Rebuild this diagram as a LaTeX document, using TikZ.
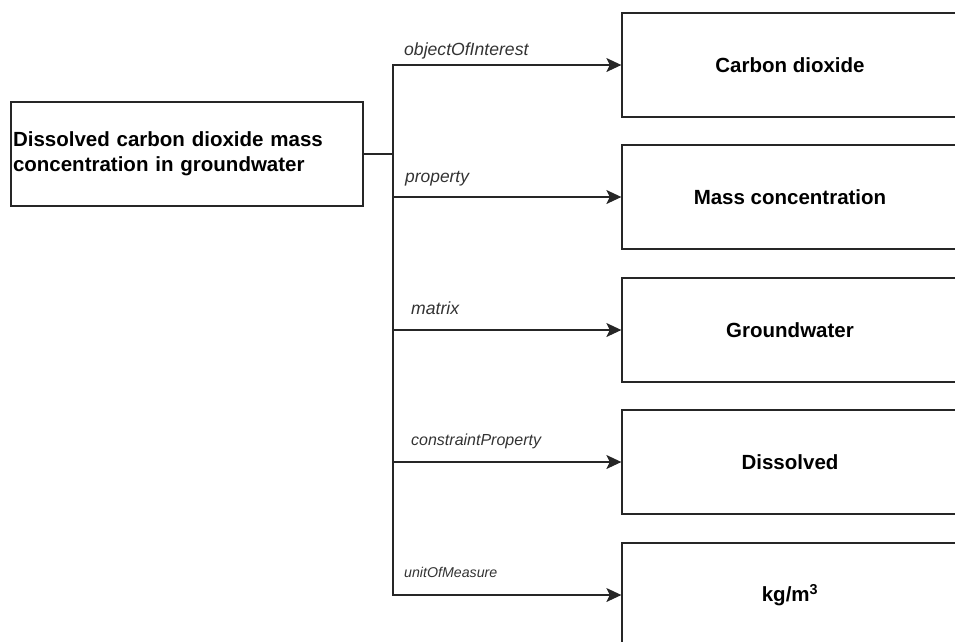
\documentclass[tikz,border=0pt]{standalone}
\usepackage{fontspec}
\setmainfont{Liberation Sans}
\usepackage{tikz}
\usetikzlibrary{arrows.meta}

\tikzset{
    term/.style={draw=black!85, line width=1.3pt, minimum width=336pt, minimum height=104pt,
        font=\fontsize{20.5}{25}\selectfont\bfseries},
    rel/.style={draw=black!85, line width=1.4pt},
    relarrow/.style={rel, -{Stealth[length=15pt, width=14pt, inset=3.5pt]}},
    lbl/.style={anchor=base west, inner sep=0pt, text=black!80}
}

\begin{document}
\begin{tikzpicture}[x=1pt, y=-1pt]
    \useasboundingbox (0,0) rectangle (955,641);
    \clip (0,0) rectangle (955,641);

    % Main variable
    \node[term, minimum width=352pt, minimum height=104pt, text width=348pt, inner xsep=2pt, align=left]
        (var) at (187,154) {Dissolved carbon dioxide mass\\concentration in groundwater};

    % Components
    \node[term] (ooi) at (790,65) {Carbon dioxide};
    \node[term] (prop) at (790,197) {Mass concentration};
    \node[term] (mtx) at (790,330) {Groundwater};
    \node[term] (cprop) at (790,462) {Dissolved};
    \node[term] (uom) at (790,595) {kg/m\textsuperscript{3}};

    % Branching connectors
    \coordinate (fork) at (393,154);
    \draw[rel] (var.east) -- (fork);
    \draw[rel] (fork) |- (393,65);
    \draw[rel] (fork) |- (393,595);
    \draw[relarrow] (fork) |- (ooi.west);
    \draw[relarrow] (fork) |- (prop.west);
    \draw[relarrow] (fork) |- (mtx.west);
    \draw[relarrow] (fork) |- (cprop.west);
    \draw[relarrow] (fork) |- (uom.west);

    % Relation labels
    \node[lbl, font=\fontsize{17.6}{20}\selectfont\itshape] (lbl-ooi) at (404,55) {objectOfInterest};
    \node[lbl, font=\fontsize{17.4}{20}\selectfont\itshape] (lbl-prop) at (405,182) {property};
    \node[lbl, font=\fontsize{17.6}{20}\selectfont\itshape] (lbl-mtx) at (411,314) {matrix};
    \node[lbl, font=\fontsize{16}{19}\selectfont\itshape] (lbl-cprop) at (411,445) {constraintProperty};
    \node[lbl, font=\fontsize{14.2}{17}\selectfont\itshape] (lbl-uom) at (404,577) {unitOfMeasure};
\end{tikzpicture}
\end{document}
